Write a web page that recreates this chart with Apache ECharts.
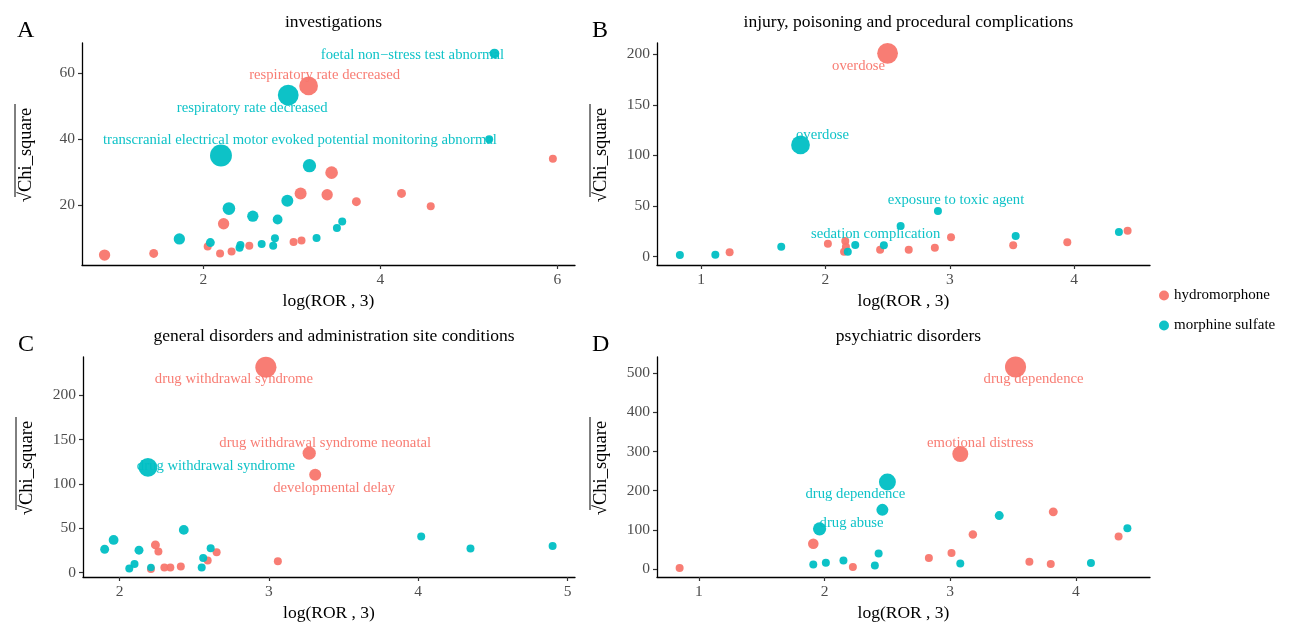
<!DOCTYPE html>
<html>
<head>
<meta charset="utf-8">
<script src="https://cdn.jsdelivr.net/npm/echarts@6/dist/echarts.min.js"></script>
<style>
  html, body { margin: 0; padding: 0; background: #fff; }
  #chart { width: 1297px; height: 626px; }
</style>
</head>
<body>
<div id="chart"></div>
<script>
// [log(ROR,3), sqrt(Chi_square), n, label]
const invHydro = [
  [3.19, 56.1, 22, 'respiratory rate decreased'],
  [5.95, 34.0, 4], [3.45, 29.8, 10], [3.10, 23.5, 9], [3.40, 23.1, 8],
  [4.24, 23.5, 5], [3.73, 21.0, 5], [4.57, 19.6, 4], [2.23, 14.3, 8],
  [2.05, 7.4, 4], [2.19, 5.3, 4], [2.32, 5.9, 4], [2.52, 7.6, 4],
  [3.02, 8.8, 4], [3.11, 9.2, 4], [0.885, 4.8, 8], [1.44, 5.3, 5]
]
const invMorph = [
  [5.29, 65.9, 6, 'foetal non\u2212stress test abnormal'],
  [2.96, 53.3, 27, 'respiratory rate decreased'],
  [2.20, 35.0, 30, 'transcranial electrical motor evoked potential monitoring abnormal'],
  [5.23, 39.9, 4], [3.20, 31.9, 11], [2.95, 21.3, 9], [2.29, 18.9, 10],
  [2.56, 16.6, 8], [2.84, 15.6, 6], [3.57, 15.0, 4], [3.51, 13.0, 4],
  [1.73, 9.7, 8], [2.08, 8.6, 5], [2.42, 7.9, 4], [2.41, 7.0, 4],
  [2.66, 8.2, 4], [2.81, 9.9, 4], [2.79, 7.6, 4], [3.28, 10.0, 4]
]

const injHydro = [
  [2.50, 200.8, 27, 'overdose'],
  [3.01, 19.1, 4], [4.43, 25.7, 4], [3.945, 14.2, 4], [3.51, 11.2, 4],
  [2.88, 8.9, 4], [2.67, 6.9, 4], [2.44, 6.9, 4], [2.16, 15.5, 4],
  [2.165, 9.9, 4], [2.15, 4.9, 4], [2.02, 12.8, 4], [1.23, 4.3, 4]
]
const injMorph = [
  [1.80, 110.3, 22, 'overdose'],
  [2.905, 45.1, 4, 'exposure to toxic agent'],
  [2.605, 30.3, 4, 'sedation complication'],
  [3.53, 20.4, 4], [4.36, 24.4, 4], [2.47, 11.2, 4], [2.24, 11.5, 4],
  [2.18, 4.9, 4], [1.645, 9.9, 4], [1.115, 2.0, 4], [0.83, 1.7, 4]
]

const genHydro = [
  [2.98, 231.4, 28, 'drug withdrawal syndrome'],
  [3.27, 134.6, 11, 'drug withdrawal syndrome neonatal'],
  [3.31, 110.2, 9, 'developmental delay'],
  [2.24, 31.2, 5], [2.26, 23.7, 4], [2.65, 22.9, 4], [2.59, 13.5, 4],
  [2.41, 6.8, 4], [2.34, 5.6, 4], [2.30, 5.6, 4], [2.21, 4.1, 4], [3.06, 12.8, 4]
]
const genMorph = [
  [2.19, 118.5, 22, 'drug withdrawal syndrome'],
  [2.43, 48.1, 6], [1.96, 36.8, 6], [1.90, 26.3, 5], [2.13, 25.2, 5],
  [2.61, 27.4, 4], [2.56, 16.5, 4], [2.55, 5.6, 4], [2.21, 5.6, 3.5],
  [2.10, 9.7, 4], [2.065, 4.5, 4], [4.02, 40.6, 4], [4.35, 27.1, 4], [4.90, 30.0, 4]
]

const psyHydro = [
  [3.52, 515.5, 28, 'drug dependence'],
  [3.08, 293.4, 16, 'emotional distress'],
  [1.91, 64.4, 7], [3.82, 145.8, 5], [3.18, 88.0, 4.5], [4.34, 83.0, 4],
  [2.83, 28.0, 4], [3.01, 40.7, 4], [3.63, 18.6, 4], [3.80, 12.7, 4],
  [2.225, 5.1, 4], [0.846, 2.5, 4]
]
const psyMorph = [
  [2.50, 222.0, 18, 'drug dependence'],
  [1.96, 102.5, 11, 'drug abuse'],
  [2.46, 150.9, 9], [3.39, 136.4, 5], [4.41, 104.3, 4], [2.43, 39.7, 4],
  [3.08, 14.2, 4], [4.12, 15.3, 4], [1.91, 11.7, 4], [2.01, 16.0, 4],
  [2.15, 21.9, 4], [2.40, 9.2, 4]
]

const xTicksA = [2, 4, 6]
const yTicksA = [20, 40, 60]
const xTicksB = [1, 2, 3, 4]
const yTicksB = [0, 50, 100, 150, 200]
const xTicksC = [2, 3, 4, 5]
const yTicksC = [0, 50, 100, 150, 200]
const xTicksD = [1, 2, 3, 4]
const yTicksD = [0, 100, 200, 300, 400, 500]

// label placement (pixels relative to point centre)
const labelOffsets = {
  'A|hydromorphone|respiratory rate decreased': [16, -11],
  'A|morphine sulfate|foetal non\u2212stress test abnormal': [-82, 2],
  'A|morphine sulfate|respiratory rate decreased': [-36, 13],
  'A|morphine sulfate|transcranial electrical motor evoked potential monitoring abnormal': [79, -15],
  'B|hydromorphone|overdose': [-29, 13],
  'B|morphine sulfate|overdose': [22, -10],
  'B|morphine sulfate|exposure to toxic agent': [18, -11],
  'B|morphine sulfate|sedation complication': [-25, 8],
  'C|hydromorphone|drug withdrawal syndrome': [-32, 12],
  'C|hydromorphone|drug withdrawal syndrome neonatal': [16, -10],
  'C|hydromorphone|developmental delay': [19, 13],
  'C|morphine sulfate|drug withdrawal syndrome': [68, -1],
  'D|hydromorphone|drug dependence': [18, 12],
  'D|hydromorphone|emotional distress': [20, -11],
  'D|morphine sulfate|drug dependence': [-32, 12],
  'D|morphine sulfate|drug abuse': [32, -6]
}

const RED = '#F8766D'
const TEAL = '#00BFC4'
const FONT = 'Liberation Serif'

const panels = [
  { key: 'A', title: 'investigations', hydro: invHydro, morph: invMorph,
    grid: { left: 82, top: 43, width: 493, height: 222 },
    x: [0.63, 6.2], y: [1.8, 69.1], xt: xTicksA, yt: yTicksA },
  { key: 'B', title: 'injury, poisoning and procedural complications', hydro: injHydro, morph: injMorph,
    grid: { left: 657, top: 43, width: 493, height: 222 },
    x: [0.646, 4.61], y: [-8.2, 211], xt: xTicksB, yt: yTicksB },
  { key: 'C', title: 'general disorders and administration site conditions', hydro: genHydro, morph: genMorph,
    grid: { left: 83, top: 357, width: 492, height: 220 },
    x: [1.755, 5.05], y: [-5, 243], xt: xTicksC, yt: yTicksC },
  { key: 'D', title: 'psychiatric disorders', hydro: psyHydro, morph: psyMorph,
    grid: { left: 657, top: 357, width: 493, height: 220 },
    x: [0.666, 4.59], y: [-20.4, 541], xt: xTicksD, yt: yTicksD }
]

function toItems(panelKey, seriesName, rows, color) {
  return rows.map(r => {
    const item = { value: [r[0], r[1], r[2]] }
    if (r[3]) {
      item.label = {
        show: true,
        formatter: r[3],
        position: 'inside',
        offset: labelOffsets[panelKey + '|' + seriesName + '|' + r[3]] || [0, 0],
        color: color,
        fontFamily: FONT,
        fontSize: 14.7
      }
    }
    return item
  })
}

const axisLine = { show: true, onZero: false, lineStyle: { color: '#000', width: 1.3 } }
const axisTickStyle = { show: true, length: 4, lineStyle: { color: '#333', width: 1.2 } }
const labelStyle = { color: '#4D4D4D', fontFamily: FONT, fontSize: 15.5 }

const grids = [], xAxes = [], yAxes = [], series = [], titles = [], graphics = []

panels.forEach((p, i) => {
  grids.push(Object.assign({ containLabel: false }, p.grid))
  xAxes.push({
    type: 'value', gridIndex: i, min: p.x[0], max: p.x[1],
    axisLine: axisLine, splitLine: { show: false },
    axisTick: Object.assign({ customValues: p.xt }, axisTickStyle),
    axisLabel: Object.assign({ customValues: p.xt, margin: 7 }, labelStyle),
    name: 'log(ROR , 3)', nameLocation: 'middle', nameGap: 27,
    nameTextStyle: { color: '#000', fontFamily: FONT, fontSize: 17.5 }
  })
  yAxes.push({
    type: 'value', gridIndex: i, min: p.y[0], max: p.y[1],
    axisLine: axisLine, splitLine: { show: false },
    axisTick: Object.assign({ customValues: p.yt }, axisTickStyle),
    axisLabel: Object.assign({ customValues: p.yt, margin: 7 }, labelStyle)
  })
  const common = {
    type: 'scatter', xAxisIndex: i, yAxisIndex: i,
    symbolSize: v => 4 * Math.sqrt(v[2]),
    emphasis: { disabled: true }, silent: true
  }
  series.push(Object.assign({}, common, {
    name: 'hydromorphone', itemStyle: { color: RED, opacity: 0.95 },
    data: toItems(p.key, 'hydromorphone', p.hydro, RED)
  }))
  series.push(Object.assign({}, common, {
    name: 'morphine sulfate', itemStyle: { color: TEAL, opacity: 0.95 },
    data: toItems(p.key, 'morphine sulfate', p.morph, TEAL)
  }))
  const cx = p.grid.left + p.grid.width / 2
  titles.push({
    text: p.title, left: cx, top: p.grid.top - 35, textAlign: 'center',
    textStyle: { color: '#000', fontFamily: FONT, fontSize: 17.5, fontWeight: 'normal' }
  })
  titles.push({
    text: p.key, left: p.grid.left - 70, top: p.grid.top - 29,
    textStyle: { color: '#000', fontFamily: FONT, fontSize: 24, fontWeight: 'normal' }
  })
  // y axis name: sqrt sign with overline
  const ny = p.grid.top + p.grid.height / 2
  graphics.push({
    type: 'group', x: p.grid.left - 56, y: ny + 1, rotation: Math.PI / 2,
    children: [
      { type: 'text', x: 0, y: 0,
        style: { text: '\u221AChi_square', fill: '#000', font: '18.5px "Liberation Serif"',
                 align: 'center', verticalAlign: 'middle' } },
      { type: 'line', shape: { x1: -42, y1: -11, x2: 51, y2: -11 },
        style: { stroke: '#000', lineWidth: 1 } }
    ]
  })
})

const chart = echarts.init(document.getElementById('chart'))
chart.setOption({
  backgroundColor: '#fff',
  animation: false,
  title: titles,
  grid: grids,
  xAxis: xAxes,
  yAxis: yAxes,
  series: series,
  graphic: graphics,
  legend: {
    data: ['hydromorphone', 'morphine sulfate'],
    orient: 'vertical', left: 1154, top: 283,
    icon: 'circle', itemWidth: 10, itemHeight: 10, itemGap: 15,
    textStyle: { color: '#000', fontFamily: FONT, fontSize: 15 }
  }
})
window.addEventListener('resize', () => chart.resize())
</script>
</body>
</html>
